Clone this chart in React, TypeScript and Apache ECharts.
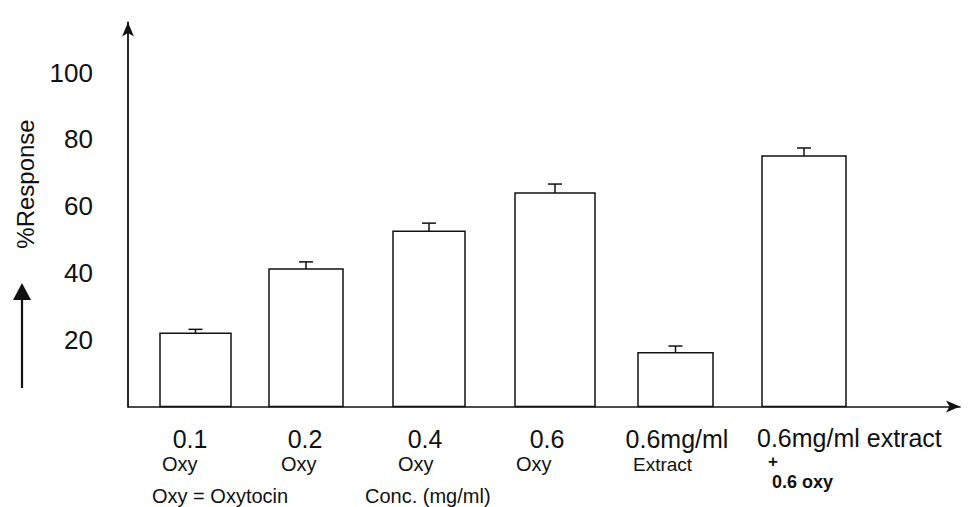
import React, { useEffect, useRef } from "react";
import * as echarts from "echarts";

// ---- data ----
const categories = ["0.1", "0.2", "0.4", "0.6", "0.6mg/ml", "0.6mg/ml extract"];
const subLabels = ["Oxy", "Oxy", "Oxy", "Oxy", "Extract", "+"];
const extraLabel = "0.6 oxy";
const responseValues = [21.9, 41.2, 52.5, 63.9, 16.1, 75.0];
const errorValues = [1.2, 2.1, 2.4, 2.7, 2.0, 2.4];
const yTicks = [20, 40, 60, 80, 100];
const yAxisTitle = "%Response";
const footNote = "Oxy = Oxytocin";
const xAxisTitle = "Conc. (mg/ml)";

// ---- layout (x-axis units are px measured from the plot's left edge) ----
const barCenters = [67.5, 178, 301, 427, 547.5, 676];
const barWidths = [71, 74, 72, 80, 75, 84];
const labelCenters = [190, 305, 425, 547, 677];
const subLabelLefts = [162, 281, 398, 516, 633];

const FONT = "'Liberation Sans', Arial, Helvetica, sans-serif";
const INK = "#111";

export default function App() {
  const ref = useRef<HTMLDivElement>(null);
  useEffect(() => {
    if (!ref.current) return;
    const chart = echarts.init(ref.current, undefined, { renderer: "svg" });

    const graphics: any[] = [];
    categories.forEach((c, i) => {
      if (i < 5) {
        graphics.push({
          type: "text",
          x: labelCenters[i],
          y: 439,
          style: { text: c, fontSize: 25, fontFamily: FONT, fill: INK, textAlign: "center", textVerticalAlign: "middle" },
        });
        graphics.push({
          type: "text",
          x: subLabelLefts[i],
          y: 464,
          style: { text: subLabels[i], fontSize: i === 4 ? 19 : 20, fontFamily: FONT, fill: INK, textAlign: "left", textVerticalAlign: "middle" },
        });
      } else {
        graphics.push({
          type: "text",
          x: 757,
          y: 438,
          style: { text: c, fontSize: 25, fontFamily: FONT, fill: INK, textAlign: "left", textVerticalAlign: "middle" },
        });
        graphics.push({
          type: "text",
          x: 773,
          y: 461,
          style: { text: subLabels[i], fontSize: 17, fontWeight: "bold", fontFamily: FONT, fill: INK, textAlign: "center", textVerticalAlign: "middle" },
        });
        graphics.push({
          type: "text",
          x: 772,
          y: 482,
          style: { text: extraLabel, fontSize: 18, fontWeight: "bold", fontFamily: FONT, fill: INK, textAlign: "left", textVerticalAlign: "middle" },
        });
      }
    });
    graphics.push({
      type: "text",
      x: 152,
      y: 496,
      style: { text: footNote, fontSize: 20, fontFamily: FONT, fill: INK, textAlign: "left", textVerticalAlign: "middle" },
    });
    graphics.push({
      type: "text",
      x: 365,
      y: 496,
      style: { text: xAxisTitle, fontSize: 20, fontFamily: FONT, fill: INK, textAlign: "left", textVerticalAlign: "middle" },
    });
    graphics.push({
      type: "text",
      x: 25,
      y: 184,
      rotation: Math.PI / 2,
      style: { text: yAxisTitle, fontSize: 24, fontFamily: FONT, fill: INK, textAlign: "center", textVerticalAlign: "middle" },
    });
    graphics.push({
      type: "line",
      shape: { x1: 22, y1: 388, x2: 22, y2: 296 },
      style: { stroke: INK, lineWidth: 2.2 },
    });
    graphics.push({
      type: "polygon",
      shape: { points: [[22, 283], [13, 300], [31, 300]] },
      style: { fill: INK },
    });

    chart.setOption({
      animation: false,
      backgroundColor: "#fff",
      grid: { left: 128, right: 8, top: 22.4, bottom: 100.5 },
      xAxis: {
        type: "value",
        min: 0,
        max: 832,
        axisLine: { show: true, symbol: ["none", "arrow"], symbolSize: [9, 14], lineStyle: { color: INK, width: 1.6 } },
        axisTick: { show: false },
        axisLabel: { show: false },
        splitLine: { show: false },
      },
      yAxis: {
        type: "value",
        min: 0,
        max: 115,
        interval: 20,
        axisLine: { show: true, symbol: ["none", "arrow"], symbolSize: [9, 14], lineStyle: { color: INK, width: 1.8 } },
        axisTick: { show: false },
        splitLine: { show: false },
        axisLabel: {
          margin: 35,
          fontSize: 26,
          fontFamily: FONT,
          color: INK,
          formatter: (v: number) => (yTicks.includes(v) ? String(v) : ""),
        },
      },
      series: [
        {
          type: "custom",
          data: responseValues.map((v, i) => [i, v, errorValues[i]]),
          encode: { x: 0, y: 1 },
          renderItem: (params: any, api: any) => {
            const i = api.value(0);
            const v = api.value(1);
            const e = api.value(2);
            const top = api.coord([barCenters[i], v]);
            const base = api.coord([barCenters[i], 0]);
            const errTop = api.coord([barCenters[i], v + e]);
            const w = api.size([barWidths[i], 0])[0];
            const ls = { stroke: INK, lineWidth: 1.5 };
            return {
              type: "group",
              children: [
                { type: "rect", shape: { x: top[0] - w / 2, y: top[1], width: w, height: base[1] - top[1] }, style: { fill: "#fff", stroke: INK, lineWidth: 1.5 } },
                { type: "line", shape: { x1: top[0], y1: top[1], x2: top[0], y2: errTop[1] }, style: ls },
                { type: "line", shape: { x1: top[0] - 7, y1: errTop[1], x2: top[0] + 7, y2: errTop[1] }, style: ls },
              ],
            };
          },
        },
      ],
      graphic: graphics,
    });
    return () => chart.dispose();
  }, []);
  return <div ref={ref} style={{ width: 968, height: 507, position: "fixed", left: 0, top: 0 }} />;
}
